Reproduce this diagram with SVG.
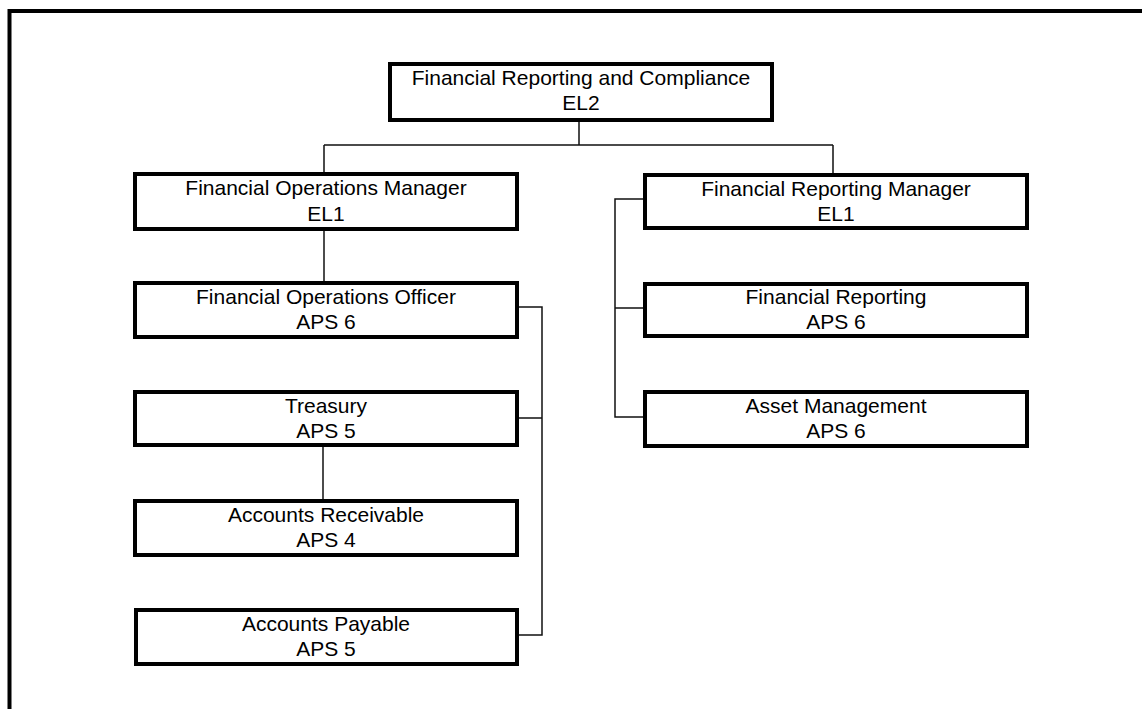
<svg xmlns="http://www.w3.org/2000/svg" width="1142" height="709" viewBox="0 0 1142 709">
<style>
.box{fill:#fff;stroke:#000;stroke-width:4}
.t{font-family:"Liberation Sans",Arial,sans-serif;font-size:21px;fill:#000;text-anchor:middle}
.c{fill:none;stroke:#111;stroke-width:1.5}
</style>
<rect x="0" y="0" width="1142" height="709" fill="#fff"/>
<rect x="9.5" y="11" width="1200" height="800" fill="none" stroke="#000" stroke-width="4"/>
<g id="connectors">
<path class="c" d="M579,122 V145 M324,145 H833 M324,145 V172 M833,145 V173"/>
<path class="c" d="M324,231 V281"/>
<path class="c" d="M519,307 H542 V635 H519 M519,418 H542"/>
<path class="c" d="M323,447 V499"/>
<path class="c" d="M643,199 H615 V417 H643 M615,308 H643"/>
</g>
<g id="n-frc"><rect class="box" x="390" y="64" width="382" height="56"/><text class="t" x="581" y="85">Financial Reporting and Compliance</text><text class="t" x="581" y="110">EL2</text></g>
<g id="n-fom"><rect class="box" x="135" y="174" width="382" height="55"/><text class="t" x="326" y="195">Financial Operations Manager</text><text class="t" x="326" y="221">EL1</text></g>
<g id="n-frm"><rect class="box" x="645" y="175" width="382" height="53"/><text class="t" x="836" y="196">Financial Reporting Manager</text><text class="t" x="836" y="221">EL1</text></g>
<g id="n-foo"><rect class="box" x="135" y="283" width="382" height="54"/><text class="t" x="326" y="304">Financial Operations Officer</text><text class="t" x="326" y="329">APS 6</text></g>
<g id="n-fr"><rect class="box" x="645" y="284" width="382" height="52"/><text class="t" x="836" y="304">Financial Reporting</text><text class="t" x="836" y="329">APS 6</text></g>
<g id="n-tr"><rect class="box" x="135" y="392" width="382" height="53"/><text class="t" x="326" y="413">Treasury</text><text class="t" x="326" y="438">APS 5</text></g>
<g id="n-am"><rect class="box" x="645" y="392" width="382" height="54"/><text class="t" x="836" y="413">Asset Management</text><text class="t" x="836" y="438">APS 6</text></g>
<g id="n-ar"><rect class="box" x="135" y="501" width="382" height="54"/><text class="t" x="326" y="522">Accounts Receivable</text><text class="t" x="326" y="547">APS 4</text></g>
<g id="n-ap"><rect class="box" x="136" y="610" width="381" height="54"/><text class="t" x="326" y="631">Accounts Payable</text><text class="t" x="326" y="656">APS 5</text></g>
</svg>
